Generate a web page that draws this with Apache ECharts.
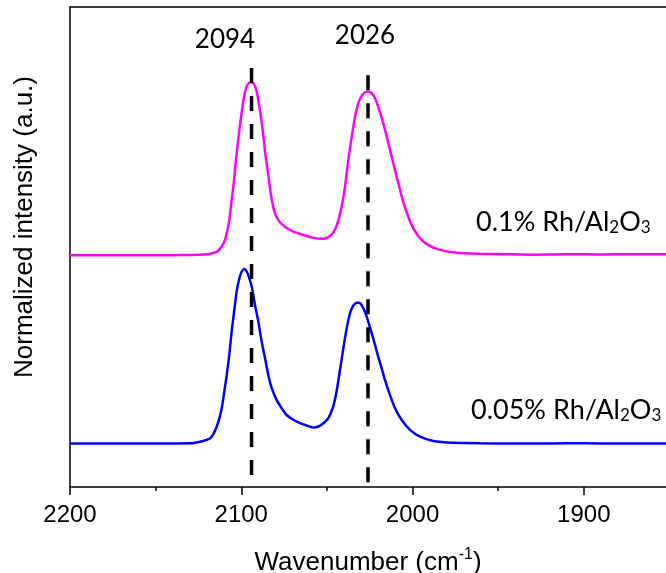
<!DOCTYPE html>
<html>
<head>
<meta charset="utf-8">
<script src="https://cdn.jsdelivr.net/npm/echarts@6/dist/echarts.min.js"></script>
<style>
  html, body { margin: 0; padding: 0; background: #fff; }
  #chart { width: 666px; height: 573px; }
</style>
</head>
<body>
<div id="chart"></div>
<script>
// IR spectra of CO adsorbed on Rh/Al2O3 (normalized, offset for clarity)

// 0.1% Rh/Al2O3 spectrum
const wn01 = [2200, 2180, 2160, 2140, 2130, 2122, 2118,
  2114.3, 2111.4, 2109.5, 2108.1, 2107.0, 2105.6, 2104.2, 2102.7, 2101.1, 2099.6,
  2098.0, 2096.5, 2094.5, 2092.6, 2091.0, 2089.1, 2087.5, 2086.0, 2084.4, 2082.8,
  2080.9, 2078.4, 2074.5, 2069.6, 2063.8, 2057.9, 2052.1, 2048.2, 2045.3, 2043.3,
  2041.4, 2039.4, 2037.5, 2035.5, 2033.6, 2031.7, 2029.7, 2027.8, 2025.8, 2023.8,
  2021.9, 2020.0, 2017.1, 2014.1, 2011.2, 2008.3, 2005.4, 2002.5, 1999.5, 1995.6,
  1990.8, 1983.9, 1974.2, 1960.6, 1945, 1930, 1910, 1890, 1870, 1852];
const int01 = [48.3, 48.3, 48.3, 48.3, 48.35, 48.45, 48.6,
  49.0, 50.1, 51.5, 53.5, 55.6, 59.8, 64.0, 69.5, 74.4, 78.5,
  82.0, 83.75, 84.4, 84.0, 82.4, 78.5, 74.4, 69.5, 65.4, 61.2,
  57.7, 55.6, 54.2, 53.2, 52.5, 51.9, 51.7, 52.3, 53.6, 55.6,
  58.4, 62.6, 68.1, 73.0, 77.1, 79.9, 81.5, 82.2, 82.4, 82.0,
  81.0, 79.2, 75.8, 71.6, 67.4, 63.3, 59.4, 56.3, 53.9, 51.8,
  50.4, 49.4, 48.8, 48.6, 48.5, 48.4, 48.5, 48.45, 48.5, 48.5];

// 0.05% Rh/Al2O3 spectrum
const wn005 = [2200, 2180, 2160, 2140, 2129.9, 2122.2, 2118.3, 2116.3, 2114.3, 2112.8,
  2111.4, 2109.9, 2108.5, 2107.0, 2105.6, 2104.2, 2102.7, 2101.1, 2099.7, 2098.2,
  2096.8, 2095.3, 2093.7, 2092.0, 2090.0, 2088.1, 2086.1, 2084.2, 2082.2, 2079.3,
  2076.4, 2073.5, 2069.6, 2065.7, 2061.8, 2057.9, 2055.0, 2052.1, 2049.2, 2046.3,
  2044.3, 2042.3, 2040.4, 2038.4, 2036.5, 2034.6, 2032.6, 2031.1, 2029.7, 2027.8,
  2025.8, 2023.8, 2021.9, 2020.0, 2018.0, 2016.1, 2013.2, 2010.2, 2006.4, 2001.5,
  1995.6, 1987.9, 1976.2, 1960.6, 1940, 1920, 1900, 1880, 1852];
const int005 = [9.06, 9.06, 9.06, 9.08, 9.1, 9.6, 10.1, 11.0, 12.6, 14.3,
  16.4, 19.9, 23.3, 27.5, 32.4, 36.5, 40.7, 43.5, 44.9, 45.4,
  44.9, 43.5, 41.4, 37.9, 34.4, 30.3, 26.8, 23.3, 20.6, 18.1,
  16.4, 15.0, 14.0, 13.3, 12.8, 12.4, 12.6, 13.3, 14.3, 16.8,
  20.0, 24.5, 28.9, 33.1, 36.2, 37.8, 38.4, 38.4, 37.9, 36.5,
  34.4, 32.0, 29.6, 27.1, 24.7, 22.3, 19.2, 16.4, 14.0, 11.9,
  10.5, 9.6, 9.2, 9.1, 9.06, 9.08, 9.1, 9.06, 9.06];

// marked band positions (cm-1) and the height where each guide line starts
const peakPositions = [2094, 2026];
const guideTops = [87.3, 85.8];

// x-axis ticks: labelled major ticks and the unlabelled ones between them
const xTicks = [2200, 2100, 2000, 1900];
const xMinorTicks = [2150, 2050, 1950];

const zip = (xs, ys) => xs.map((x, i) => [x, ys[i]]);

const chart = echarts.init(document.getElementById('chart'), null, { renderer: 'canvas' });

const X_MIN = 1852, X_MAX = 2200;
const black = '#000';
const axisFont = 'Liberation Sans';

const guideSeries = peakPositions.map((p, i) => ({
  type: 'line',
  data: [[p, guideTops[i]], [p, 0]],
  symbol: 'none',
  silent: true,
  z: 5,
  lineStyle: { color: black, width: 3.5, type: [15, 13] }
}));

chart.setOption({
  animation: false,
  backgroundColor: '#fff',
  grid: { left: 70, right: 0, top: 7, bottom: 86, outerBoundsMode: 'none', containLabel: false },
  xAxis: [
    {
      type: 'value',
      inverse: true,
      min: X_MIN, max: X_MAX,
      position: 'bottom',
      name: 'Wavenumber (cm{sup|-1})',
      nameLocation: 'middle',
      nameGap: 60,
      nameTextStyle: {
        color: black, fontSize: 26, fontFamily: axisFont,
        rich: { sup: { fontSize: 16, fontFamily: axisFont, color: black, padding: [0, 0, 16, 0] } }
      },
      axisLine: { lineStyle: { color: black, width: 1.5 } },
      axisTick: { length: 8, customValues: xTicks, lineStyle: { color: black, width: 1.5 } },
      splitLine: { show: false },
      axisLabel: {
        color: black, fontSize: 24, fontFamily: axisFont, margin: 16,
        customValues: xTicks,
        formatter: v => String(v)
      }
    },
    {
      // short unlabelled ticks halfway between the labelled ones
      type: 'value',
      inverse: true,
      min: X_MIN, max: X_MAX,
      position: 'bottom',
      offset: 0,
      axisLine: { show: false },
      axisTick: { length: 4, customValues: xMinorTicks, lineStyle: { color: black, width: 1.5 } },
      axisLabel: { show: false },
      splitLine: { show: false }
    },
    {
      // top frame line
      type: 'value',
      inverse: true,
      min: X_MIN, max: X_MAX,
      position: 'top',
      axisLine: { show: true, lineStyle: { color: black, width: 1.5 } },
      axisTick: { show: false },
      axisLabel: { show: false },
      splitLine: { show: false }
    }
  ],
  yAxis: {
    type: 'value',
    min: 0, max: 100,
    name: 'Normalized intensity (a.u.)',
    nameLocation: 'middle',
    nameGap: 32,
    nameTextStyle: { color: black, fontSize: 26, fontFamily: axisFont, padding: [0, 0, 0, 40] },
    axisLine: { show: true, lineStyle: { color: black, width: 1.5 } },
    axisTick: { show: false },
    axisLabel: { show: false },
    splitLine: { show: false }
  },
  series: [
    {
      name: '0.1% Rh/Al2O3',
      type: 'line',
      data: zip(wn01, int01),
      symbol: 'none',
      smooth: 0.2,
      lineStyle: { color: '#ff00ff', width: 2.5 }
    },
    {
      name: '0.05% Rh/Al2O3',
      type: 'line',
      data: zip(wn005, int005),
      symbol: 'none',
      smooth: 0.2,
      lineStyle: { color: '#0000ff', width: 2.5 }
    }
  ].concat(guideSeries),
  graphic: [
    {
      type: 'text', x: 225, y: 40,
      style: { text: String(peakPositions[0]), fill: black, fontSize: 26, fontFamily: 'Lato', align: 'center', verticalAlign: 'middle' }
    },
    {
      type: 'text', x: 365, y: 36,
      style: { text: String(peakPositions[1]), fill: black, fontSize: 26, fontFamily: 'Lato', align: 'center', verticalAlign: 'middle' }
    },
    {
      type: 'text', x: 476, y: 222,
      style: {
        text: '0.1% Rh/Al{sub|2}O{sub|3}', fill: black, fontSize: 27, fontFamily: 'Lato',
        align: 'left', verticalAlign: 'middle',
        rich: { sub: { fontSize: 17, fontFamily: 'Lato', fill: black, padding: [12, 0, 0, 0] } }
      }
    },
    {
      type: 'text', x: 471, y: 410,
      style: {
        text: '0.05% Rh/Al{sub|2}O{sub|3}', fill: black, fontSize: 27, fontFamily: 'Lato',
        align: 'left', verticalAlign: 'middle',
        rich: { sub: { fontSize: 17, fontFamily: 'Lato', fill: black, padding: [12, 0, 0, 0] } }
      }
    }
  ]
});
</script>
</body>
</html>
